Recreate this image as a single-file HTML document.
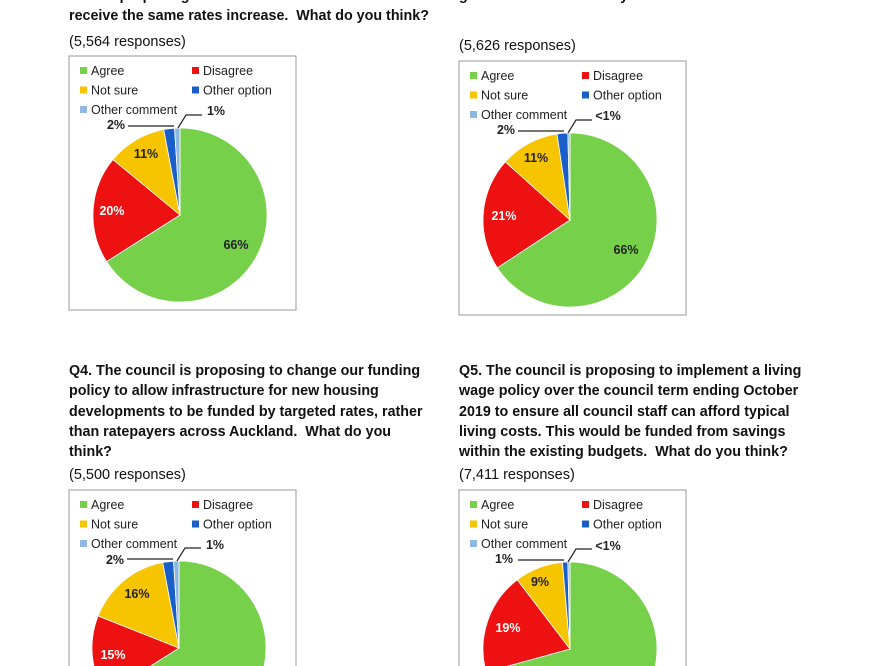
<!DOCTYPE html>
<html style="overflow:hidden;height:666px"><head><meta charset="utf-8"><style>
body{margin:0;width:884px;height:666px;overflow:hidden;background:#fff;font-family:"Liberation Sans",sans-serif;position:relative;}
.t{position:absolute;font-weight:bold;font-size:14.3px;line-height:20.3px;color:#111;white-space:nowrap;}
.r{position:absolute;font-size:14.5px;color:#111;white-space:nowrap;}
svg{position:absolute;left:0;top:0}
</style></head><body>
<div class="t" style="left:69px;top:-14px">We are proposing that for 2017/2018 both should<br>receive the same rates increase.&nbsp; What do you think?</div>
<div class="t" style="left:459px;top:-14px">general rates.&nbsp; What do you think?</div>
<div class="r" style="left:69px;top:34px">(5,564 responses)</div>
<div class="r" style="left:459px;top:38px">(5,626 responses)</div>
<div class="t" style="left:69px;top:361px">Q4. The council is proposing to change our funding<br>policy to allow infrastructure for new housing<br>developments to be funded by targeted rates, rather<br>than ratepayers across Auckland.&nbsp; What do you<br>think?</div>
<div class="t" style="left:459px;top:361px">Q5. The council is proposing to implement a living<br>wage policy over the council term ending October<br>2019 to ensure all council staff can afford typical<br>living costs. This would be funded from savings<br>within the existing budgets.&nbsp; What do you think?</div>
<div class="r" style="left:69px;top:467px">(5,500 responses)</div>
<div class="r" style="left:459px;top:467px">(7,411 responses)</div>
<svg id="s" width="884" height="666" xmlns="http://www.w3.org/2000/svg"></svg>
<script>
var s=document.getElementById('s'),h='';
var cols=['#76d04a','#ee1111','#f7c400','#1a5fc8','#8fb8e0'];
function chart(bx,by,cx,cy,vals,labs,lp){
 h+='<rect x="'+bx+'" y="'+by+'" width="227" height="254" fill="#fff" stroke="#999" stroke-width="1"/>';
 var L=[['Agree',0,0],['Disagree',112,0],['Not sure',0,19.5],['Other option',112,19.5],['Other comment',0,39]];
 for(var i=0;i<5;i++){var x=bx+11+L[i][1],y=by+10+L[i][2];
  h+='<rect x="'+x+'" y="'+(y+1)+'" width="7" height="7" fill="'+cols[i]+'"/>';
  h+='<text x="'+(x+11)+'" y="'+(y+9)+'" font-size="12.5" fill="#222" font-family="Liberation Sans">'+L[i][0]+'</text>';}
 var r=87,a=0,tot=0;vals.forEach(function(v){tot+=v});
 for(var i=0;i<5;i++){var a2=a+vals[i]/tot*2*Math.PI;
  var x1=cx+r*Math.sin(a),y1=cy-r*Math.cos(a),x2=cx+r*Math.sin(a2),y2=cy-r*Math.cos(a2);
  h+='<path d="M'+cx+','+cy+'L'+x1+','+y1+'A'+r+','+r+' 0 '+((a2-a)>Math.PI?1:0)+' 1 '+x2+','+y2+'Z" fill="'+cols[i]+'" stroke="#fff" stroke-width="0.8"/>';a=a2;}
 for(var i=0;i<labs.length;i++){var p=lp[i];
  h+='<text x="'+(cx+p[0])+'" y="'+(cy+p[1])+'" font-size="12.5" font-weight="bold" fill="'+(p[2]||'#222')+'" text-anchor="middle" font-family="Liberation Sans">'+labs[i]+'</text>';}
 h+='<polyline points="'+(cx-52)+','+(cy-89)+' '+(cx-6)+','+(cy-89)+'" fill="none" stroke="#222" stroke-width="1.2"/>';
 h+='<polyline points="'+(cx-2)+','+(cy-87)+' '+(cx+6)+','+(cy-100)+' '+(cx+22)+','+(cy-100)+'" fill="none" stroke="#222" stroke-width="1.2"/>';
}
chart(69,56,180,215,[66,20,11,2,1],['66%','20%','11%','2%','1%'],[[56,34],[-68,0,'#fff'],[-34,-57],[-64,-86],[36,-100]]);
chart(459,61,570,220,[66,21,11,2,0.4],['66%','21%','11%','2%','<1%'],[[56,34],[-66,0,'#fff'],[-34,-58],[-64,-86],[38,-100]]);
chart(69,490,179,648,[66,15,16,2,1],['66%','15%','16%','2%','1%'],[[56,34],[-66,11,'#fff'],[-42,-50],[-64,-84],[36,-99]]);
chart(459,490,570,649,[71,19,9,1,0.4],['71%','19%','9%','1%','<1%'],[[56,34],[-62,-17,'#fff'],[-30,-63],[-66,-86],[38,-99]]);
s.innerHTML=h;
</script>
</body></html>
